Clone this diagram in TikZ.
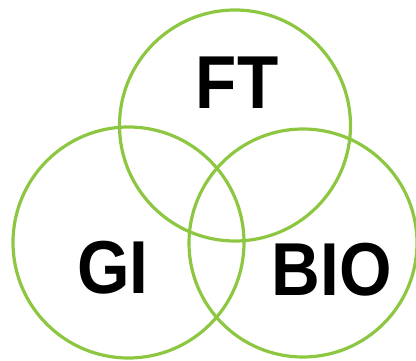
\documentclass[tikz,border=0pt]{standalone}
\usepackage{fontspec}
\newfontfamily\vennfont{Liberation Sans}[FakeStretch=0.9]
\usepackage{tikz}
\usetikzlibrary{positioning}
\definecolor{venngreen}{RGB}{141,199,66}

\begin{document}
\begin{tikzpicture}[
  x=1pt, y=-1pt,
  set/.style   = {draw=venngreen, line width=3.2pt, circle, minimum size=#1,
                  inner sep=0pt},
  lbl/.style   = {font=\vennfont\bfseries\fontsize{75}{75}\selectfont,
                  inner sep=0pt, text=black}
]

\useasboundingbox (0,0) rectangle (416,361);

% ============================ the three sets ===============================
\node[set=231pt] (ft)  at (235,125.5) {};
\node[set=231pt] (gi)  at (128.5,242.5) {};
\node[set=228pt] (bio) at (303,243) {};

% ================================ labels ===================================
\node[lbl] (ftlbl)  at (237,83)    {FT};
\node[lbl] (gilbl)  at (113,267.5) {GI};
\node[lbl] (biolbl) at (332,270)   {BIO};

\end{tikzpicture}
\end{document}
